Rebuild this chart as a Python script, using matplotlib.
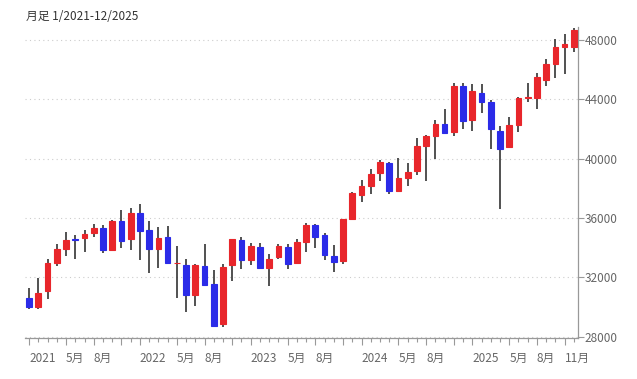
import numpy as np
import matplotlib.pyplot as plt
import matplotlib.ticker as ticker

plt.rcParams["font.family"] = ["Noto Sans CJK JP", "DejaVu Sans"]

# monthly candles, 1/2021 - 12/2025
months = [f"{y}-{m:02d}" for y in range(2021, 2026) for m in range(1, 13)]
opens = [30630, 30000, 31070, 33000, 33900, 34580, 34630, 35010, 35360, 33820, 35830, 34570,
         36320, 35200, 33900, 34750, 32980, 32810, 30820, 32780, 31520, 28860, 32860, 34540,
         33150, 34040, 32660, 33340, 34050, 32960, 34380, 35560, 34840, 33440, 33070, 35950,
         37570, 38140, 39020, 39740, 37830, 38710, 39150, 40860, 41520, 42310, 41830, 44870,
         42590, 44400, 43820, 41900, 40790, 42270, 44080, 44100, 45300, 46400, 47560, 47550]
highs = [31270, 31960, 33240, 34260, 35090, 34850, 35170, 35630, 35510, 35890, 36570, 36680,
         36950, 35820, 35370, 35490, 34120, 33270, 32910, 34280, 32500, 32890, 34590, 34710,
         34340, 34330, 33570, 34260, 34260, 34590, 35680, 35580, 34980, 34160, 35950, 37780,
         38580, 39280, 39890, 39780, 40080, 39710, 41380, 41590, 42630, 43330, 45070, 45070,
         45050, 45050, 43940, 42200, 42840, 44180, 45100, 45760, 46710, 48040, 48430, 48800]
lows = [29860, 29860, 30550, 32770, 33470, 33270, 33740, 34710, 33610, 33780, 34010, 33840,
        33150, 32270, 32630, 32910, 30600, 29650, 30070, 31510, 28720, 28660, 31730, 32570,
        32810, 32650, 31430, 33240, 32590, 32880, 33700, 33960, 33180, 32330, 32910, 35890,
        37060, 37610, 38490, 37610, 37760, 38140, 38880, 38500, 39990, 41690, 41510, 42000,
        41840, 43100, 40660, 36610, 40690, 41820, 43800, 43340, 44900, 45420, 45730, 47170]
closes = [29980, 30930, 33000, 33880, 34530, 34500, 34940, 35360, 33840, 35820, 34480, 36340,
          35130, 33890, 34680, 32980, 33000, 30780, 32850, 31510, 28730, 32730, 34590, 33150,
          34090, 32660, 33270, 34100, 32910, 34410, 35560, 34720, 33510, 33050, 35950, 37690,
          38150, 39000, 39810, 37820, 38690, 39120, 40840, 41560, 42330, 41760, 44910, 42540,
          44540, 43840, 42000, 40670, 42270, 44090, 44130, 45540, 46400, 47560, 47720, 48680]

y_ticks = [28000, 32000, 36000, 40000, 44000, 48000]

o = np.array(opens)
c = np.array(closes)
x = np.arange(len(months))
up = c >= o
colors = np.where(up, "#e8262b", "#2b2be8")

fig = plt.figure(figsize=(6.37, 3.79), dpi=100)
ax = fig.add_axes([0.0392, 0.1074, 0.8682, 0.8214])

ax.vlines(x, lows, highs, color="#333333", linewidth=1.2, zorder=2)
ax.bar(x, np.abs(c - o), bottom=np.minimum(o, c), width=0.62, color=colors,
       edgecolor=colors, linewidth=0.8, zorder=3)

ax.set_xlim(-0.45, len(months) - 0.55)
ax.set_ylim(27890, 48880)

# y axis on the right
ax.yaxis.tick_right()
ax.set_yticks(y_ticks)
ax.yaxis.set_major_formatter(ticker.FuncFormatter(lambda v, _: f"{v:.0f}"))
ax.tick_params(axis="y", length=4, width=0.8, color="#999999", labelcolor="#666666",
               labelsize=8.5, pad=1)
ax.grid(True, axis="y", ls=(0, (1, 3)), lw=0.8, color="#cccccc")
ax.set_axisbelow(True)

# x axis: a small tick every month, longer ones at Jan / May / Aug / Nov
# (the Nov label only shows where it does not run into the next year)
label_pos, label_txt = [], []
for i, m in enumerate(months):
    yy, mm = m.split("-")
    if mm == "01":
        label_pos.append(i)
        label_txt.append(yy)
    elif mm in ("05", "08", "11"):
        label_pos.append(i)
        last = i + 1 >= len(months) - 1
        label_txt.append(f"{int(mm)}月" if (mm != "11" or last) else "")
ax.set_xticks(label_pos)
ax.set_xticklabels(label_txt, ha="left")
ax.set_xticks(x, minor=True)
ax.tick_params(axis="x", which="major", length=5, width=0.8, color="#999999",
               labelcolor="#666666", labelsize=8.5, pad=5)
ax.tick_params(axis="x", which="minor", length=3, width=0.8, color="#999999")

for side in ("left", "top"):
    ax.spines[side].set_visible(False)
for side in ("right", "bottom"):
    ax.spines[side].set_color("#999999")
    ax.spines[side].set_linewidth(0.9)

fig.text(26 / 637, 1 - 17 / 379, "月足 1/2021-12/2025", fontsize=8.5, color="#333333",
         ha="left", va="center")

fig.savefig("out.png", dpi=100)
